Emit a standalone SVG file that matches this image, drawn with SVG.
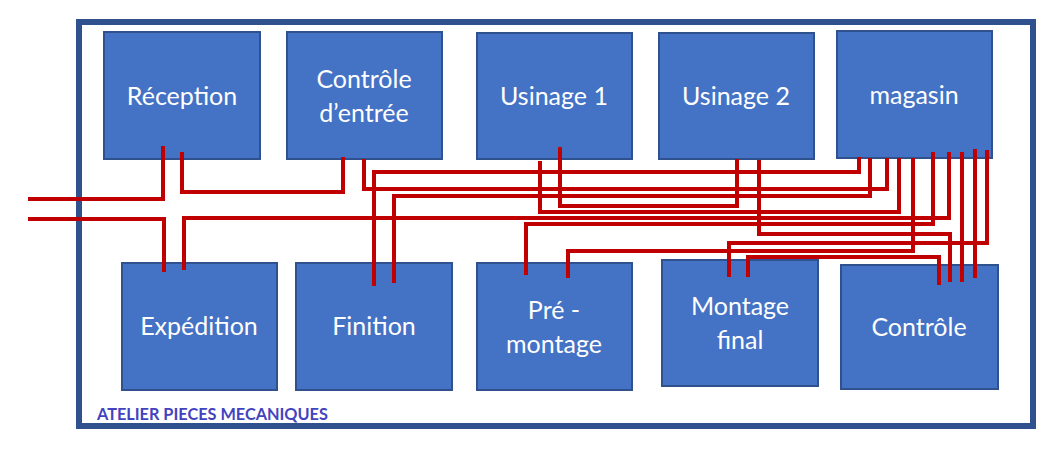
<svg xmlns="http://www.w3.org/2000/svg" width="1055" height="451" viewBox="0 0 1055 451">
<style>
.box{fill:#4472C4;stroke:#2F528F;stroke-width:2}
.lbl{font-family:Lato,"Liberation Sans",Arial,sans-serif;font-size:25px;fill:#FFFFFF;text-anchor:middle}
.wire{fill:none;stroke:#C00000;stroke-width:4;stroke-linejoin:miter}
</style>
<rect width="1055" height="451" fill="#FFFFFF"/>
<g id="frame">
<rect x="79" y="22" width="954" height="404" fill="#FFFFFF" stroke="#2F528F" stroke-width="6"/>
<text x="97" y="420" font-family="Lato,'Liberation Sans',Arial,sans-serif" font-size="16.3" font-weight="bold" fill="#4343C0">ATELIER PIECES MECANIQUES</text>
</g>
<g id="reception"><rect class="box" x="104" y="32" width="156" height="127"/><text class="lbl" x="182" y="105">Réception</text></g>
<g id="controle-entree"><rect class="box" x="287" y="32" width="155" height="127"/><text class="lbl" x="364" y="88">Contrôle</text><text class="lbl" x="364" y="122">d’entrée</text></g>
<g id="usinage1"><rect class="box" x="477" y="33" width="155" height="126"/><text class="lbl" x="554" y="105">Usinage 1</text></g>
<g id="usinage2"><rect class="box" x="659" y="33" width="155" height="126"/><text class="lbl" x="736" y="105">Usinage 2</text></g>
<g id="magasin"><rect class="box" x="837" y="31" width="155" height="127"/><text class="lbl" x="914" y="104">magasin</text></g>
<g id="expedition"><rect class="box" x="122" y="263" width="155" height="127"/><text class="lbl" x="199" y="335">Expédition</text></g>
<g id="finition"><rect class="box" x="296" y="263" width="156" height="127"/><text class="lbl" x="374" y="335">Finition</text></g>
<g id="pre-montage"><rect class="box" x="477" y="263" width="155" height="127"/><text class="lbl" x="554" y="319">Pré -</text><text class="lbl" x="554" y="353">montage</text></g>
<g id="montage-final"><rect class="box" x="662" y="260" width="156" height="126"/><text class="lbl" x="740" y="315">Montage</text><text class="lbl" x="740" y="349">final</text></g>
<g id="controle"><rect class="box" x="841" y="265" width="157" height="124"/><text class="lbl" x="919" y="336">Contrôle</text></g>
<g id="connectors">
<path class="wire" d="M28,199 H163 V146"/>
<path class="wire" d="M28,219 H164 V272"/>
<path class="wire" d="M182,152 V192 H343 V157"/>
<path class="wire" d="M184,270 V218 H949 V152"/>
<path class="wire" d="M859,157 V172 H374 V286"/>
<path class="wire" d="M364,159 V189 H887 V158"/>
<path class="wire" d="M394,283 V196 H870 V158"/>
<path class="wire" d="M540,161 V212 H899 V158"/>
<path class="wire" d="M560,147 V206 H737 V159"/>
<path class="wire" d="M526,275 V224 H933 V152"/>
<path class="wire" d="M913,158 V251 H568 V278"/>
<path class="wire" d="M759,160 V234 H950 V282"/>
<path class="wire" d="M729,277 V243 H987 V150"/>
<path class="wire" d="M748,277 V257 H939 V285"/>
<path class="wire" d="M962,152 V282"/>
<path class="wire" d="M975,149 V278"/>
</g>
</svg>
